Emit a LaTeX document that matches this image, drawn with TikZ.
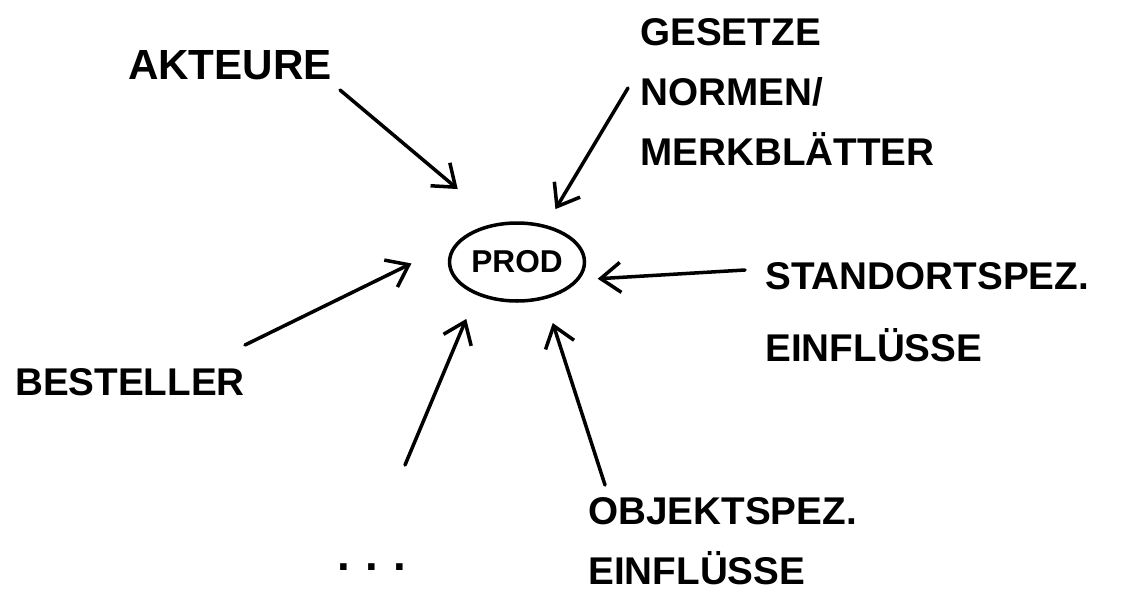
\documentclass[tikz,border=0pt]{standalone}
\usepackage{fontspec}
\setmainfont{Liberation Sans}
\usetikzlibrary{arrows.meta,shapes.geometric}

\tikzset{
  txt/.style={font=\bfseries\fontsize{22}{34}\selectfont, align=left, inner sep=0pt},
  pfeil/.style={line width=2pt, line cap=round,
    -{Straight Barb[length=4mm,width=6mm,line width=2pt]}},
}

\begin{document}
\begin{tikzpicture}[x=0.02cm,y=-0.02cm]
\useasboundingbox (0,0) rectangle (1128,605);

\node[draw, ellipse, line width=2pt, minimum width=2.7cm, minimum height=1.56cm,
  inner sep=0pt, font=\bfseries\fontsize{18}{20}\selectfont] (prod) at (517,262) {PROD};

\node[txt, font=\bfseries\fontsize{24}{30}\selectfont] (akteure) at (230,65) {AKTEURE};
\node[txt, anchor=west] (gesetze) at (640,92) {GESETZE\\NORMEN/\\MERKBLÄTTER};
\node[txt, anchor=west] (standort) at (765,312) {STANDORTSPEZ.\\[7pt]EINFLÜSSE};
\node[txt] (besteller) at (130,382) {BESTELLER};
\node[txt, anchor=west] (objekt) at (588,541) {OBJEKTSPEZ.\\EINFLÜSSE};
\node[txt, font=\bfseries\fontsize{26}{30}\selectfont] (dots) at (372,567) {.\,\,.\,\,.};

\coordinate (s1) at (340,90);
\coordinate (s2) at (628,88);
\coordinate (s3) at (745,270);
\coordinate (s4) at (245,345);
\coordinate (s5) at (405,465);
\coordinate (s6) at (605,485);

\draw[pfeil, shorten >=1.05cm] (s1) -- (prod.116);
\draw[pfeil, shorten >=0.37cm] (s2) -- (prod.52);
\draw[pfeil, shorten >=0.37cm] (s3) -- (prod.-16);
\draw[pfeil, shorten >=1.04cm] (s4) -- (prod.160);
\draw[pfeil, shorten >=0.52cm] (s5) -- (prod.219);
\draw[pfeil, shorten >=0.5cm] (s6) -- (prod.307);
\end{tikzpicture}
\end{document}
